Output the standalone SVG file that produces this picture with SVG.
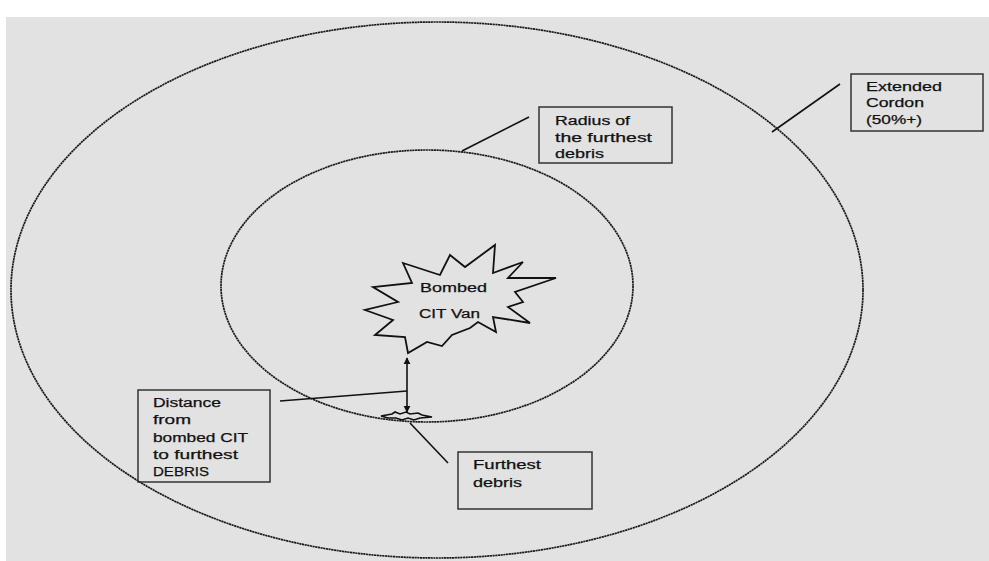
<svg xmlns="http://www.w3.org/2000/svg" width="989" height="561" viewBox="0 0 989 561">
  <defs>
    <marker id="ah" viewBox="0 0 10 10" refX="9" refY="5" markerWidth="4.5" markerHeight="4.5" orient="auto-start-reverse">
      <path d="M0,0 L10,5 L0,10 z" fill="#111"/>
    </marker>
  </defs>
  <style>
    .ring { fill: none; stroke: #1a1a1a; stroke-width: 1.7; stroke-dasharray: 2.2 0.5; }
    .box { fill: none; stroke: #333; stroke-width: 1.5; }
    .ln { fill: none; stroke: #111; stroke-width: 1.6; }
    .t { font-family: "Liberation Sans", Arial, sans-serif; font-size: 12.5px; fill: #111; stroke: #111; stroke-width: 0.25; }
  </style>
  <rect x="0" y="0" width="989" height="561" fill="#ffffff"/>
  <rect x="6" y="17" width="983" height="544" fill="#e2e2e2"/>

  <g id="outer-cordon">
    <ellipse class="ring" cx="437" cy="290" rx="426" ry="268"/>
  </g>
  <g id="debris-radius">
    <ellipse class="ring" cx="427" cy="286" rx="206" ry="136"/>
  </g>

  <g id="bombed-van">
    <polygon fill="none" stroke="#111" stroke-width="1.8" stroke-linejoin="miter" points="403,263 440,275 450,255 465,267 495,245 493,273 523,262 508,278 556,278 515,292 523,302 508,307 530,323 493,317 496,332 478,322 470,328 452,335 442,346 427,342 408,353 405,337 375,335 393,320 365,310 398,302 373,287 412,283"/>
    <text class="t" x="420" y="292" textLength="67" lengthAdjust="spacingAndGlyphs">Bombed</text>
    <text class="t" x="419" y="318" textLength="61" lengthAdjust="spacingAndGlyphs">CIT Van</text>
  </g>

  <g id="furthest-debris-mark">
    <polygon fill="none" stroke="#111" stroke-width="1.6" points="381,416 392,414 395,412 400,414 406,412 410,414 418,413 422,415 432,417 420,418 414,420 408,418 402,420 396,418 388,418"/>
  </g>

  <g id="label-distance">
    <rect class="box" x="138" y="390" width="132" height="92"/>
    <text class="t" x="153" y="407" textLength="68" lengthAdjust="spacingAndGlyphs">Distance</text>
    <text class="t" x="153" y="424" textLength="38" lengthAdjust="spacingAndGlyphs">from</text>
    <text class="t" x="153" y="442" textLength="95" lengthAdjust="spacingAndGlyphs">bombed CIT</text>
    <text class="t" x="153" y="459" textLength="85" lengthAdjust="spacingAndGlyphs">to furthest</text>
    <text class="t" x="153" y="476" textLength="56" lengthAdjust="spacingAndGlyphs">DEBRIS</text>
  </g>

  <g id="label-radius">
    <rect class="box" x="539" y="107" width="133" height="56"/>
    <text class="t" x="555" y="125" textLength="75" lengthAdjust="spacingAndGlyphs">Radius of</text>
    <text class="t" x="555" y="142" textLength="97" lengthAdjust="spacingAndGlyphs">the furthest</text>
    <text class="t" x="555" y="158" textLength="49" lengthAdjust="spacingAndGlyphs">debris</text>
  </g>

  <g id="label-extended">
    <rect class="box" x="851" y="74" width="132" height="57"/>
    <text class="t" x="866" y="91" textLength="76" lengthAdjust="spacingAndGlyphs">Extended</text>
    <text class="t" x="866" y="107" textLength="58" lengthAdjust="spacingAndGlyphs">Cordon</text>
    <text class="t" x="866" y="124" textLength="56" lengthAdjust="spacingAndGlyphs">(50%+)</text>
  </g>

  <g id="label-furthest">
    <rect class="box" x="458" y="452" width="134" height="57"/>
    <text class="t" x="473" y="469" textLength="68" lengthAdjust="spacingAndGlyphs">Furthest</text>
    <text class="t" x="473" y="487" textLength="49" lengthAdjust="spacingAndGlyphs">debris</text>
  </g>

  <g id="connectors">
    <line class="ln" x1="407" y1="358" x2="407" y2="412" marker-start="url(#ah)" marker-end="url(#ah)"/>
    <line class="ln" x1="280" y1="401" x2="407" y2="391"/>
    <line class="ln" x1="529" y1="117" x2="462" y2="151"/>
    <line class="ln" x1="840" y1="84" x2="772" y2="132"/>
    <line class="ln" x1="410" y1="423" x2="448" y2="463"/>
  </g>
</svg>
